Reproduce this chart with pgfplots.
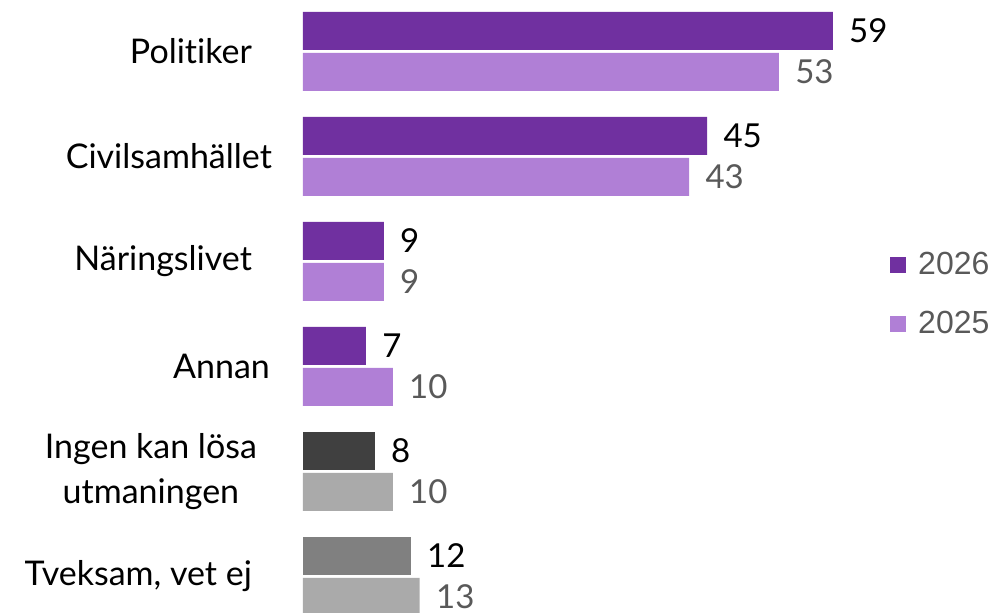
\documentclass[border=0pt]{standalone}
\usepackage{fontspec}
\setmainfont[Ligatures={NoCommon}]{Lato}
\newfontfamily\legfont{Liberation Sans}
\usepackage{pgfplots}
\pgfplotsset{compat=1.18}
\definecolor{p26}{HTML}{7030A0}
\definecolor{p25}{HTML}{B07FD6}
\definecolor{g40}{HTML}{404040}
\definecolor{g80}{HTML}{808080}
\definecolor{gA6}{HTML}{AAAAAA}
\definecolor{txtgray}{HTML}{595959}
\begin{document}
\begin{tikzpicture}
\begin{axis}[
  anchor=origin, at={(151.5pt,-25.75pt)},
  x=4.49pt, y=52.5pt, y dir=reverse,
  xmin=0, xmax=76.7, ymin=-0.5, ymax=5.5,
  clip=false,
  hide x axis,
  axis y line*=left,
  y axis line style={draw=none},
  major tick length=0pt,
  ytick={0,1,2,3,4,5},
  yticklabels={{Politiker\hspace*{10pt}},{Civilsamhället},{Näringslivet\hspace*{10pt}},{Annan\hspace*{1pt}},{Ingen kan lösa\hspace*{7.5pt}\\utmaningen\hspace*{7.5pt}},{Tveksam, vet ej\hspace*{10pt}}},
  yticklabel style={font=\fontsize{17}{22.5}\selectfont, align=center, anchor=east, xshift=-12pt},
  bar width=19pt,
  /pgf/number format/assume math mode=true,
  nodes near coords style={font=\fontsize{16.5}{18}\selectfont, anchor=west, inner sep=0pt, xshift=8pt},
  legend style={at={(0.852,0.531)}, anchor=west, draw=none, fill=none,
    font=\legfont\fontsize{16}{18}\selectfont, text=txtgray,
    row sep=12.5pt, inner sep=0pt, cells={anchor=west}},
  legend image code/.code={\fill[#1] (0pt,-4pt) rectangle (8pt,4pt);\path (12pt,0pt);},
]
\addplot[xbar, fill=p26, draw=none, bar shift=10.25pt, nodes near coords, nodes near coords style={text=black, yshift=10.25pt}, point meta=x]
  coordinates {(59,0) (45,1) (9,2) (7,3)};
\addlegendentry{2026}
\addplot[xbar, fill=p25, draw=none, bar shift=-10.25pt, nodes near coords, nodes near coords style={text=txtgray, yshift=-10.25pt}, point meta=x]
  coordinates {(53,0) (43,1) (9,2) (10,3)};
\addlegendentry{2025}
\addplot[xbar, forget plot, fill=g40, draw=none, bar shift=10.25pt, nodes near coords, nodes near coords style={text=black, yshift=10.25pt}, point meta=x]
  coordinates {(8,4)};
\addplot[xbar, forget plot, fill=g80, draw=none, bar shift=10.25pt, nodes near coords, nodes near coords style={text=black, yshift=10.25pt}, point meta=x]
  coordinates {(12,5)};
\addplot[xbar, forget plot, fill=gA6, draw=none, bar shift=-10.25pt, nodes near coords, nodes near coords style={text=txtgray, yshift=-10.25pt}, point meta=x]
  coordinates {(10,4) (13,5)};
\end{axis}
\pgfresetboundingbox
\path[use as bounding box] (0,0) rectangle (496pt,-306.5pt);
\end{tikzpicture}
\end{document}
